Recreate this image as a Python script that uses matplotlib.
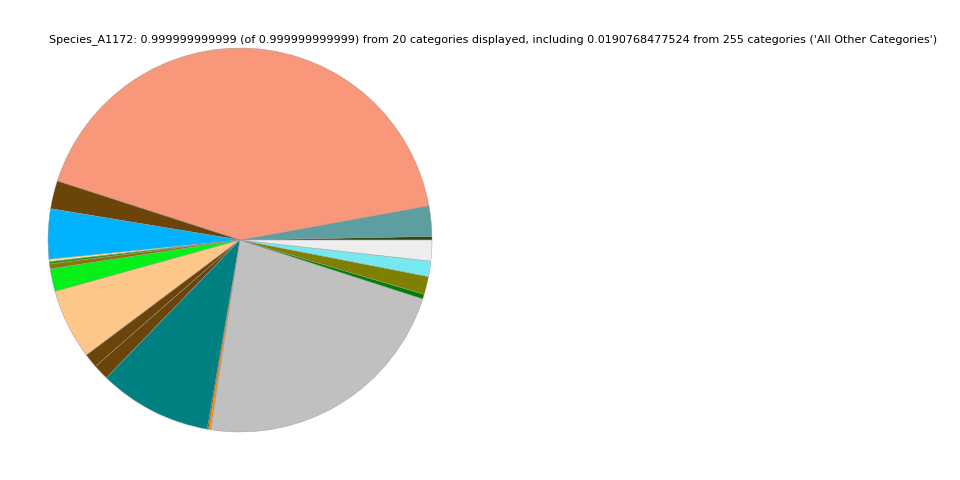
import numpy as np
import matplotlib
matplotlib.use('Agg')
import matplotlib.pyplot as plt

# slices, counterclockwise from 3 o'clock
labels = ['cat01', 'cat02', 'cat03', 'cat04', 'cat05', 'cat06', 'cat07',
          'cat08', 'All Other Categories', 'cat10', 'cat11', 'cat12', 'cat13',
          'cat14', 'cat15', 'cat16', 'cat17', 'cat18', 'cat19', 'cat20']
fractions = [0.003, 0.0255, 0.4205, 0.0236, 0.042, 0.002, 0.002, 0.004, 0.0191,
             0.059, 0.012, 0.013, 0.095, 0.001, 0.002, 0.224, 0.004, 0.015,
             0.013, 0.0175]
colors = ['#2E4A14', '#5F9EA0', '#F8977A', '#6B440A', '#00B2FF', '#F0E68C',
          '#1A9E1A', '#8B7500', '#04F018', '#FDC78A', '#6B440A', '#6B440A',
          '#008080', '#6B440A', '#FF8C00', '#C0C0C0', '#008000', '#808000',
          '#76E9F0', '#EEEEEE']

title = ("Species_A1172: 0.999999999999 (of 0.999999999999) from 20 categories "
         "displayed, including 0.0190768477524 from 255 categories "
         "('All Other Categories')")

fig = plt.figure(figsize=(9.6, 4.8), dpi=100)
ax = fig.add_axes([0.05, 0.1, 0.4, 0.8])
ax.pie(fractions, colors=colors, startangle=0, counterclock=True,
       wedgeprops=dict(edgecolor='#999999', linewidth=0.3))
ax.set_xlim(-1, 1)
ax.set_ylim(-1, 1)
ax.set_aspect('equal')

fig.text(0.514, 0.918, title, ha='center', va='center', fontsize=8)

fig.savefig('out.png', dpi=100)
